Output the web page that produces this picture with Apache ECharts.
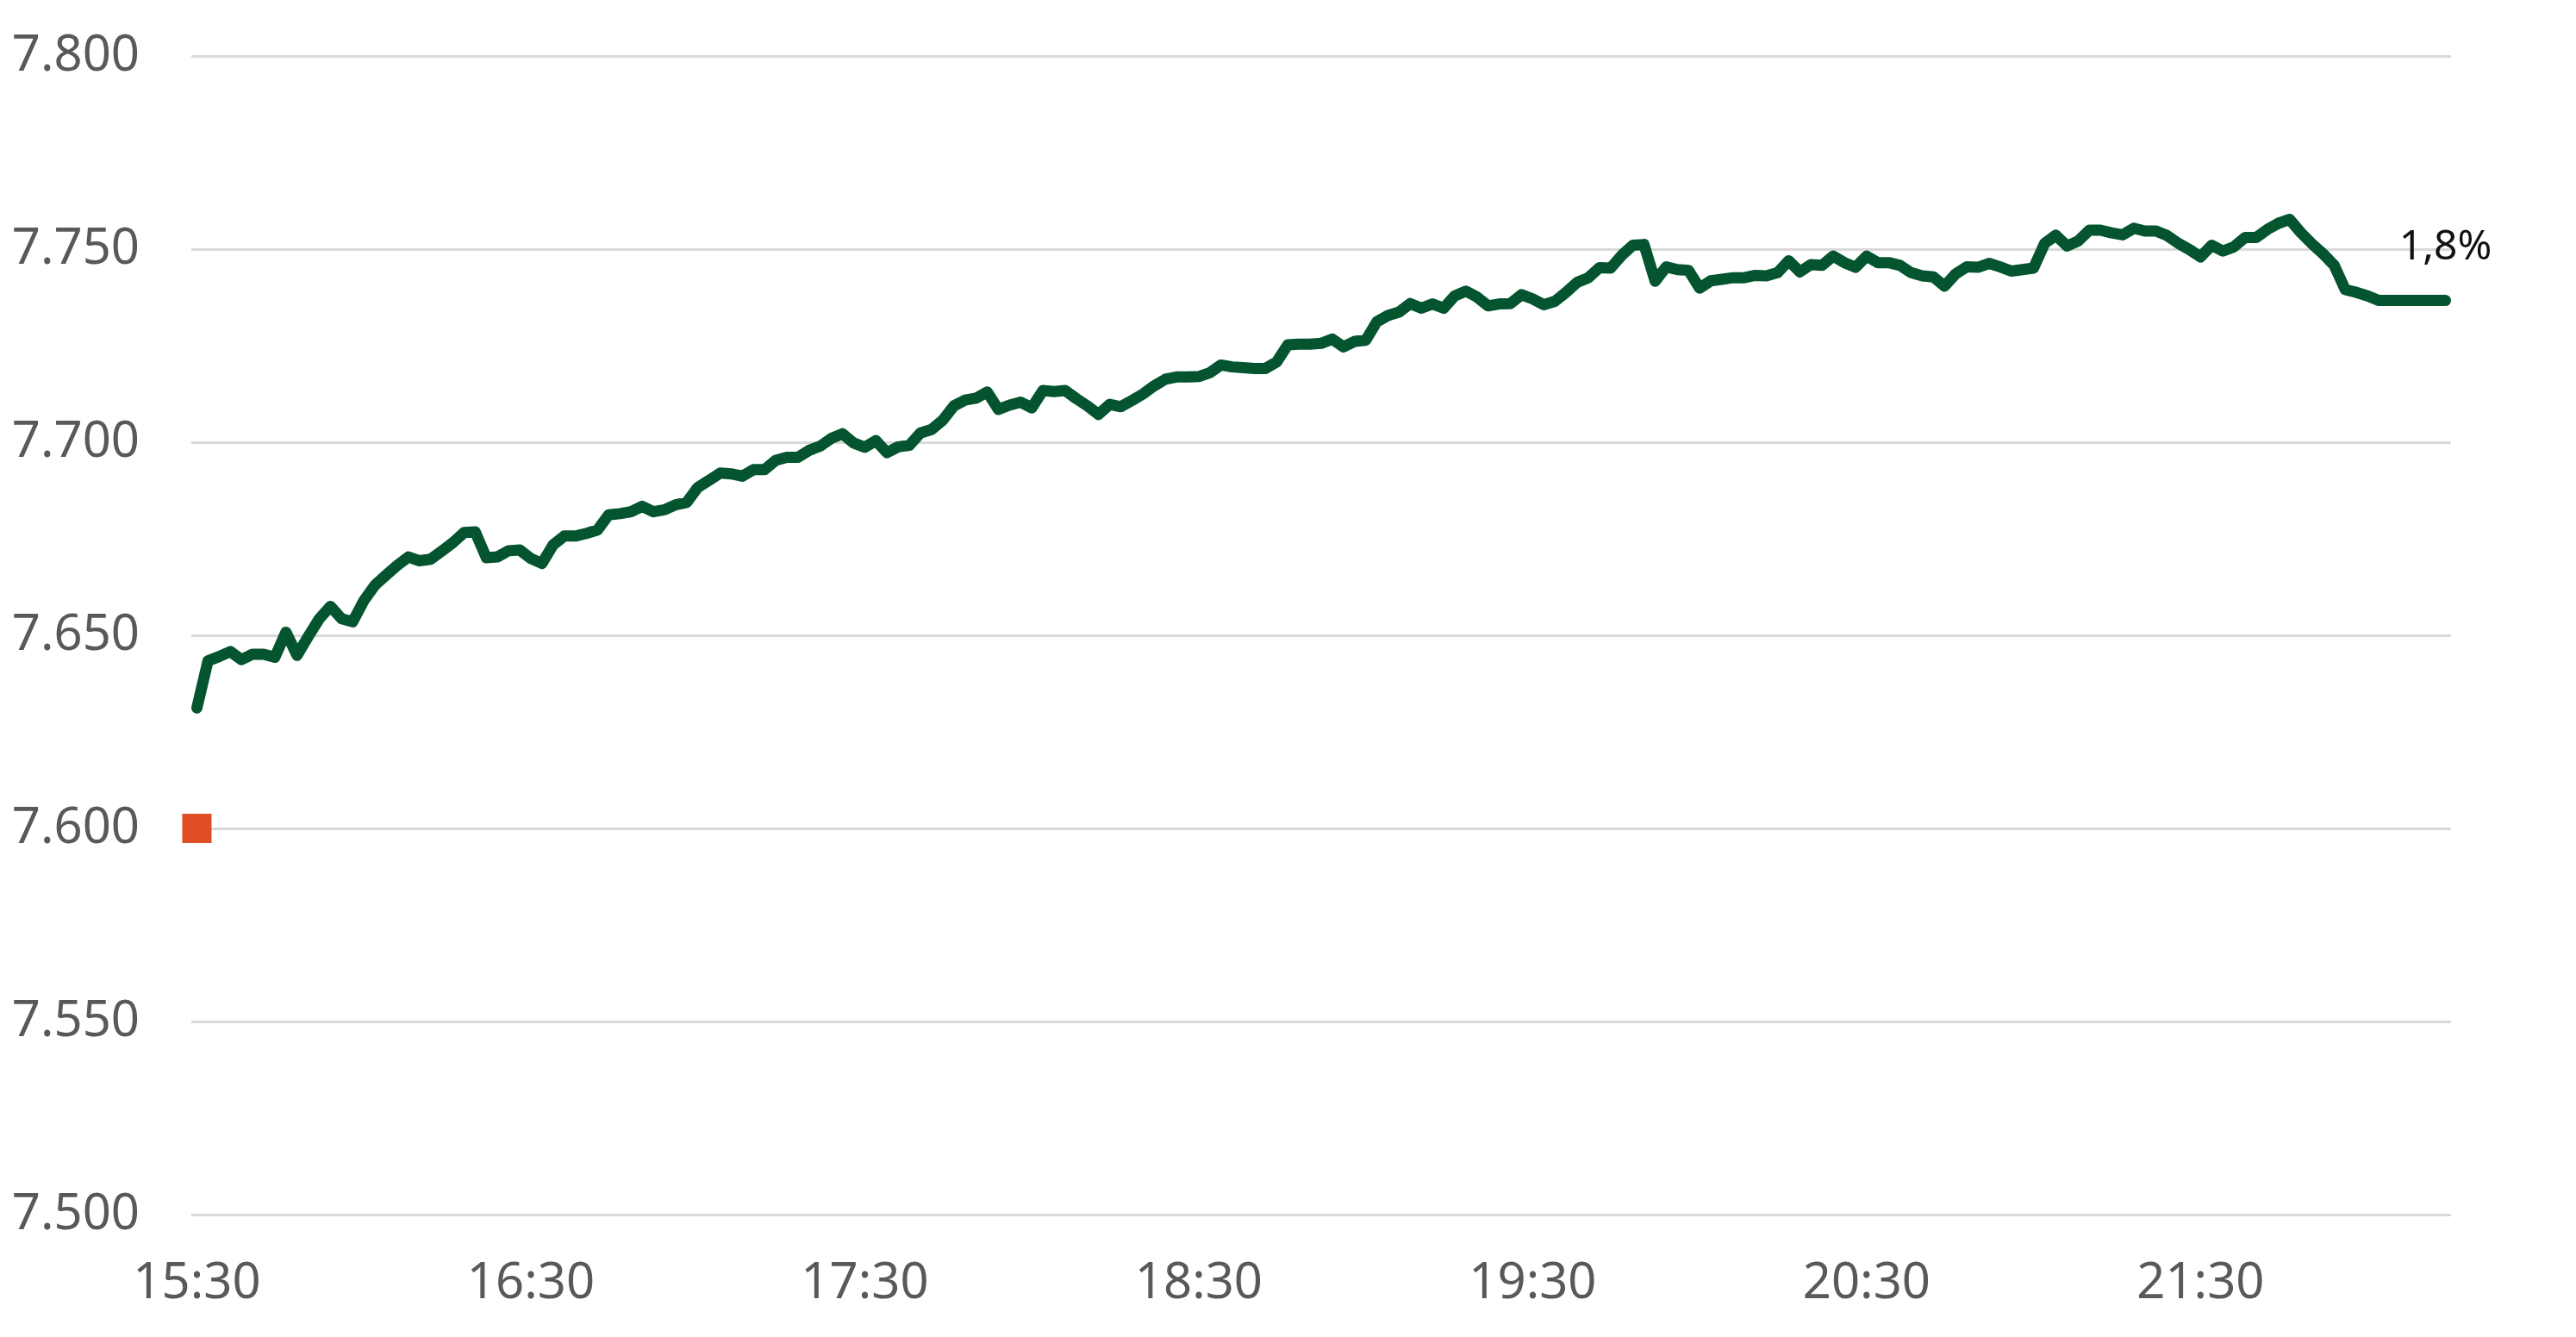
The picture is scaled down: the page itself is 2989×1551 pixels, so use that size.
<!DOCTYPE html>
<html>
<head>
<meta charset="utf-8">
<title>Index</title>
<script src="https://cdn.jsdelivr.net/npm/echarts@6/dist/echarts.min.js"></script>
<style>
  html, body { margin: 0; padding: 0; background: #fff; }
  #chart { width: 2989px; height: 1551px; }
</style>
</head>
<body>
<div id="chart"></div>
<script>
// index value, one point every 2 minutes from 15:30
var indexValues = [
  7631.2, 7643.4, 7644.5, 7645.8, 7643.7, 7645.1, 7645.1, 7644.3, 7650.8, 7644.8,
  7649.7, 7654.3, 7657.5, 7654.3, 7653.5, 7659.0, 7663.0, 7665.6, 7668.1, 7670.3,
  7669.3, 7669.7, 7671.8, 7674.0, 7676.6, 7676.8, 7670.1, 7670.3, 7671.9, 7672.1,
  7669.9, 7668.6, 7673.4, 7675.7, 7675.7,
  7676.4, 7677.3, 7681.2, 7681.5, 7682.0, 7683.4, 7682.0, 7682.5, 7683.8, 7684.4,
  7688.3, 7690.1, 7692.0, 7691.8, 7691.2, 7692.9, 7692.9, 7695.3, 7696.1, 7696.1,
  7697.9, 7699.0, 7701.0, 7702.2, 7699.8, 7698.7, 7700.4, 7697.3, 7698.8, 7699.2,
  7702.4, 7703.3, 7705.7, 7709.4,
  7710.9, 7711.4, 7713.0, 7708.5, 7709.6, 7710.4, 7708.9, 7713.4, 7713.1, 7713.4,
  7711.3, 7709.4, 7707.2, 7709.8, 7709.2, 7710.8, 7712.5, 7714.6, 7716.3, 7716.9,
  7716.9, 7717.0, 7718.0, 7720.0, 7719.5, 7719.3, 7719.1, 7719.1, 7720.8, 7725.2,
  7725.4, 7725.4, 7725.6, 7726.7,
  7724.7, 7726.1, 7726.4, 7731.2, 7732.8, 7733.7, 7735.9, 7734.7, 7735.8, 7734.7,
  7737.9, 7739.1, 7737.6, 7735.3, 7735.8, 7735.9, 7738.2, 7737.1, 7735.6, 7736.5,
  7738.8, 7741.4, 7742.6, 7745.2, 7745.1, 7748.4, 7751.0, 7751.2, 7741.7, 7745.4,
  7744.7, 7744.5, 7739.9,
  7741.8, 7742.2, 7742.6, 7742.6, 7743.2, 7743.1, 7743.9, 7747.0, 7744.1, 7746.0,
  7745.8, 7748.2, 7746.5, 7745.3, 7748.2, 7746.5, 7746.5, 7745.8, 7743.9, 7743.1,
  7742.8, 7740.4, 7743.6, 7745.4, 7745.3, 7746.3, 7745.4, 7744.3, 7744.7, 7745.1,
  7751.5, 7753.6, 7750.8, 7752.1, 7754.9,
  7754.9, 7754.2, 7753.7, 7755.4, 7754.7, 7754.7, 7753.5, 7751.5, 7749.9, 7748.0,
  7751.0, 7749.5, 7750.6, 7753.0, 7753.0, 7755.1, 7756.7, 7757.7, 7754.3, 7751.4,
  7748.8, 7745.8, 7739.5, 7738.8, 7737.9, 7736.7, 7736.7, 7736.7, 7736.7, 7736.7,
  7736.7, 7736.7
];
// previous close (red marker) and change label at the end
var previousClose = 7600;
var changeLabel = '1,8%';
var startHour = 15, startMinute = 30, stepMinutes = 2;
var yTicks = [7500, 7550, 7600, 7650, 7700, 7750, 7800];

var timeCats = indexValues.map(function (v, i) {
  var m = startHour * 60 + startMinute + i * stepMinutes;
  var h = Math.floor(m / 60), mm = m % 60;
  return h + ':' + (mm < 10 ? '0' + mm : mm);
});
var lastIdx = indexValues.length - 1;

var myChart = echarts.init(document.getElementById('chart'));
var option = {
  animation: false,
  backgroundColor: '#fff',
  grid: {
    left: 222,
    right: 145,
    top: 65,
    bottom: 142,
    containLabel: false,
    outerBoundsMode: 'none'
  },
  xAxis: {
    type: 'category',
    boundaryGap: true,
    data: timeCats,
    axisLine: { show: false },
    axisTick: { show: false },
    splitLine: { show: false },
    axisLabel: {
      interval: function (i) { return i % 30 === 0; },
      hideOverlap: false,
      margin: 51,
      color: '#595959',
      fontFamily: 'Noto Sans',
      fontSize: 58
    }
  },
  yAxis: {
    type: 'value',
    min: yTicks[0],
    max: yTicks[yTicks.length - 1],
    interval: 50,
    axisLine: { show: false },
    axisTick: { show: false },
    splitLine: {
      lineStyle: { color: '#d9d9d9', width: 3 }
    },
    axisLabel: {
      margin: 60,
      color: '#595959',
      fontFamily: 'Noto Sans',
      fontSize: 58,
      formatter: function (v) {
        return String(Math.round(v)).replace(/\B(?=(\d{3})+(?!\d))/g, '.');
      }
    }
  },
  series: [
    {
      name: 'index',
      type: 'line',
      data: indexValues,
      showSymbol: false,
      symbol: 'none',
      smooth: false,
      z: 3,
      lineStyle: {
        color: '#04552f',
        width: 13,
        cap: 'round',
        join: 'round'
      },
      itemStyle: { color: '#04552f' },
      markPoint: {
        symbol: 'circle',
        symbolSize: 2,
        itemStyle: { color: 'rgba(0,0,0,0)' },
        label: {
          show: true,
          position: 'top',
          distance: 36,
          formatter: changeLabel,
          fontFamily: 'Noto Sans',
          fontSize: 48,
          color: '#111'
        },
        data: [{ coord: [lastIdx, indexValues[lastIdx]] }]
      }
    },
    {
      name: 'close',
      type: 'scatter',
      data: [[0, previousClose]],
      symbol: 'rect',
      symbolSize: 34,
      z: 4,
      itemStyle: { color: '#e04e23', opacity: 1 }
    }
  ]
};
myChart.setOption(option);
</script>
</body>
</html>
